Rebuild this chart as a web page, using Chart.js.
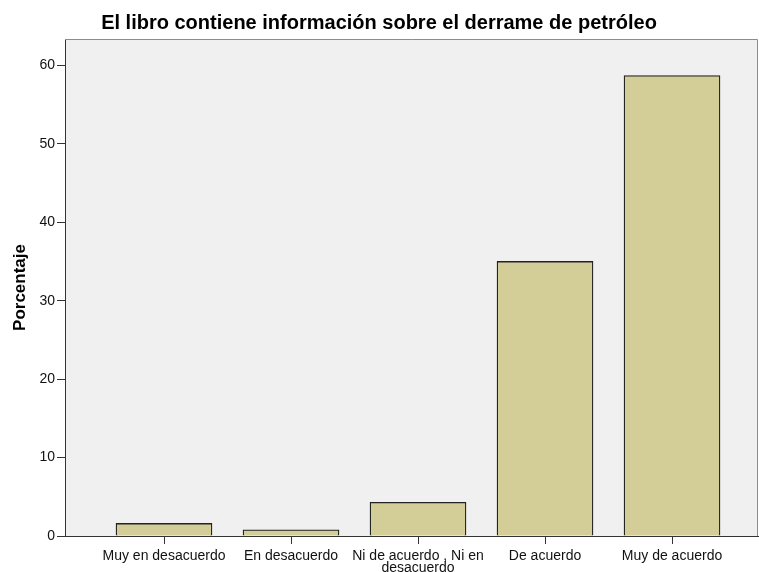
<!DOCTYPE html>
<html>
<head>
<meta charset="utf-8">
<script src="https://cdn.jsdelivr.net/npm/chart.js@4.4.1/dist/chart.umd.min.js"></script>
<style>
    html, body { margin: 0; padding: 0; background: #fff; }
    #wrap { width: 759px; height: 572px; }
</style>
</head>
<body>
<div id="wrap"><canvas id="chart" width="759" height="572"></canvas></div>
<script>
// data
const categories = ['Muy en desacuerdo', 'En desacuerdo', ['Ni de acuerdo , Ni en', 'desacuerdo'], 'De acuerdo', 'Muy de acuerdo'];
const percentages = [1.6, 0.8, 4.3, 35.0, 58.7];
const yTicks = [0, 10, 20, 30, 40, 50, 60];

const chartTitle = 'El libro contiene información sobre el derrame de petróleo';
const yTitle = 'Porcentaje';

// plot background + frame (SPSS style)
const frame = {
    id: 'frame',
    beforeDraw(chart) {
        const a = chart.chartArea;
        const ctx = chart.ctx;
        ctx.save();
        ctx.fillStyle = '#f0f0f0';
        ctx.fillRect(a.left, a.top, a.right - a.left, a.bottom - a.top);
        ctx.restore();
    },
    afterDraw(chart) {
        const a = chart.chartArea;
        const ctx = chart.ctx;
        ctx.save();
        ctx.strokeStyle = '#8c8c8c';
        ctx.lineWidth = 1;
        ctx.beginPath();
        ctx.moveTo(a.left, a.top + 0.5);
        ctx.lineTo(a.right - 0.5, a.top + 0.5);
        ctx.lineTo(a.right - 0.5, a.bottom);
        ctx.stroke();
        ctx.restore();
    }
};

const ctx = document.getElementById('chart').getContext('2d');
new Chart(ctx, {
    type: 'bar',
    data: {
        datasets: [{
            data: percentages.map((v, i) => ({ x: i, y: v })),
            backgroundColor: '#d3ce97',
            borderColor: '#222',
            borderWidth: 1.3,
            borderSkipped: 'bottom',
            barThickness: 96
        }]
    },
    options: {
        responsive: false,
        animation: false,
        layout: { padding: { left: 0, right: 1, top: 0, bottom: 0 } },
        plugins: {
            legend: { display: false },
            tooltip: { enabled: false },
            title: {
                display: true,
                text: chartTitle,
                color: '#000',
                font: { family: 'Liberation Sans, Arial', size: 20, weight: 'bold' },
                padding: { top: 11, bottom: 4 }
            }
        },
        scales: {
            x: {
                type: 'linear',
                offset: false,
                min: -0.7795,
                max: 4.677,
                afterBuildTicks: axis => { axis.ticks = categories.map((c, i) => ({ value: i })); },
                afterFit: axis => { axis.height = 36; },
                grid: { offset: false, drawOnChartArea: false, drawTicks: true, tickLength: 8, color: '#333' },
                border: { display: true, color: '#333', width: 1 },
                ticks: {
                    autoSkip: false,
                    maxRotation: 0,
                    padding: 6,
                    color: '#111',
                    font: { family: 'Liberation Sans, Arial', size: 14, lineHeight: 0.85 },
                    callback: v => categories[v]
                }
            },
            y: {
                min: 0,
                max: 63.35,
                afterBuildTicks: axis => { axis.ticks = yTicks.map(v => ({ value: v })); },
                afterFit: axis => { axis.width = 65; },
                grid: { drawOnChartArea: false, drawTicks: true, tickLength: 8, color: '#333' },
                border: { display: true, color: '#333', width: 1 },
                ticks: {
                    padding: 2,
                    color: '#111',
                    font: { family: 'Liberation Sans, Arial', size: 14 }
                },
                title: {
                    display: true,
                    text: yTitle,
                    color: '#000',
                    font: { family: 'Liberation Sans, Arial', size: 17, weight: 'bold' },
                    padding: { top: 10, bottom: 0 }
                }
            }
        }
    },
    plugins: [frame]
});
</script>
</body>
</html>
